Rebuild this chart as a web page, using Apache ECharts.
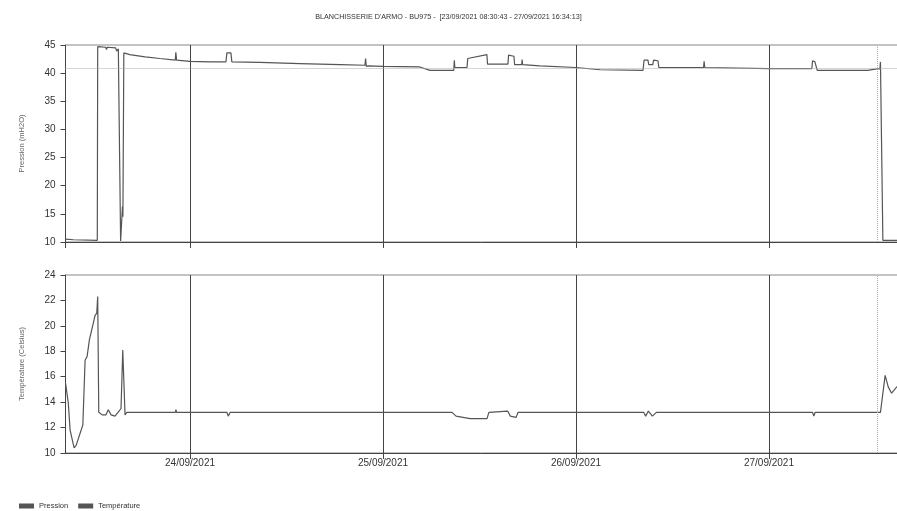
<!DOCTYPE html>
<html>
<head>
<meta charset="utf-8">
<title>BLANCHISSERIE D'ARMO - BU975</title>
<script src="https://cdn.jsdelivr.net/npm/echarts@6/dist/echarts.min.js"></script>
<style>
html, body { margin: 0; padding: 0; background: #fff; }
#chart { width: 897px; height: 511px; }
</style>
</head>
<body>
<div id="chart"></div>
<script>
// bornes de la période
var startTime = '2021-09-23 08:30:43';
var endTime = '2021-09-27 16:34:13';
var markerTime = '2021-09-27 13:31';
var seuilPression = 40.8;

// pression (mH2O)
var pressTimes = [
	'2021-09-23 08:31', '2021-09-23 09:30', '2021-09-23 12:28', '2021-09-23 12:31', '2021-09-23 13:30',
	'2021-09-23 13:37', '2021-09-23 13:42', '2021-09-23 14:45', '2021-09-23 14:52', '2021-09-23 15:05',
	'2021-09-23 15:18', '2021-09-23 15:22', '2021-09-23 15:30', '2021-09-23 15:36', '2021-09-23 15:39',
	'2021-09-23 15:46', '2021-09-23 16:30', '2021-09-23 18:25', '2021-09-23 20:15', '2021-09-23 22:10',
	'2021-09-23 22:14', '2021-09-23 22:20', '2021-09-24 00:00', '2021-09-24 02:30', '2021-09-24 04:28',
	'2021-09-24 04:35', '2021-09-24 05:05', '2021-09-24 05:12', '2021-09-24 08:40', '2021-09-24 13:40',
	'2021-09-24 18:40', '2021-09-24 21:45', '2021-09-24 21:50', '2021-09-24 21:55', '2021-09-24 22:10',
	'2021-09-25 00:00', '2021-09-25 04:35', '2021-09-25 05:50', '2021-09-25 08:48', '2021-09-25 08:52',
	'2021-09-25 08:56', '2021-09-25 10:27', '2021-09-25 10:32', '2021-09-25 12:55', '2021-09-25 13:00',
	'2021-09-25 15:32', '2021-09-25 15:37', '2021-09-25 16:17', '2021-09-25 16:22', '2021-09-25 17:15',
	'2021-09-25 17:18', '2021-09-25 17:22', '2021-09-25 19:30', '2021-09-26 00:00', '2021-09-26 03:00',
	'2021-09-26 08:20', '2021-09-26 08:28', '2021-09-26 08:57', '2021-09-26 09:03', '2021-09-26 09:33',
	'2021-09-26 09:39', '2021-09-26 10:12', '2021-09-26 10:18', '2021-09-26 15:52', '2021-09-26 15:56',
	'2021-09-26 16:01', '2021-09-27 00:00', '2021-09-27 05:20', '2021-09-27 05:25', '2021-09-27 05:43',
	'2021-09-27 06:00', '2021-09-27 12:18', '2021-09-27 13:12', '2021-09-27 13:48', '2021-09-27 13:52',
	'2021-09-27 13:58', '2021-09-27 14:10', '2021-09-27 16:34'
];
var pressVals = [
	10.5, 10.4, 10.3, 44.7, 44.6,
	44.2, 44.6, 44.5, 43.9, 44.3,
	44.2, 10.2, 10.3, 16.3, 14.5,
	43.6, 43.3, 42.9, 42.6, 42.3,
	43.7, 42.3, 42.1, 42.0, 42.0,
	43.6, 43.6, 42.0, 41.9, 41.7,
	41.5, 41.4, 42.6, 41.2, 41.3,
	41.2, 41.1, 40.5, 40.5, 42.3,
	41.0, 41.0, 42.6, 43.3, 41.6,
	41.6, 43.2, 43.0, 41.5, 41.5,
	42.4, 41.5, 41.3, 41.0, 40.6,
	40.5, 42.3, 42.3, 41.5, 41.5,
	42.3, 42.2, 41.0, 41.0, 42.1,
	41.0, 40.8, 40.8, 42.2, 42.0,
	40.5, 40.5, 40.7, 40.8, 42.0,
	42.0, 10.3, 10.3
];

// température (Celsius)
var tempTimes = [
	'2021-09-23 08:31', '2021-09-23 08:45', '2021-09-23 08:52', '2021-09-23 09:05', '2021-09-23 09:35',
	'2021-09-23 09:50', '2021-09-23 10:40', '2021-09-23 10:57', '2021-09-23 11:12', '2021-09-23 11:29',
	'2021-09-23 11:49', '2021-09-23 12:11', '2021-09-23 12:24', '2021-09-23 12:31', '2021-09-23 12:39',
	'2021-09-23 13:04', '2021-09-23 13:33', '2021-09-23 13:50', '2021-09-23 14:11', '2021-09-23 14:40',
	'2021-09-23 15:10', '2021-09-23 15:25', '2021-09-23 15:38', '2021-09-23 15:55', '2021-09-23 16:08',
	'2021-09-23 22:10', '2021-09-23 22:15', '2021-09-23 22:20', '2021-09-24 04:35', '2021-09-24 04:45',
	'2021-09-24 05:00', '2021-09-25 08:35', '2021-09-25 09:05', '2021-09-25 10:50', '2021-09-25 12:56',
	'2021-09-25 13:10', '2021-09-25 15:30', '2021-09-25 15:50', '2021-09-25 16:33', '2021-09-25 16:48',
	'2021-09-26 08:25', '2021-09-26 08:40', '2021-09-26 09:00', '2021-09-26 09:30', '2021-09-26 10:00',
	'2021-09-27 05:25', '2021-09-27 05:35', '2021-09-27 05:45', '2021-09-27 13:52', '2021-09-27 14:27',
	'2021-09-27 14:50', '2021-09-27 15:15', '2021-09-27 15:54', '2021-09-27 16:34'
];
var tempVals = [
	15.5, 15.4, 13.9, 11.8, 10.4,
	10.6, 12.2, 17.3, 17.6, 18.9,
	19.8, 20.8, 21.0, 22.3, 13.2,
	13.0, 13.0, 13.4, 13.0, 12.9,
	13.3, 13.5, 18.1, 13.0, 13.2,
	13.2, 13.4, 13.2, 13.2, 12.9,
	13.2, 13.2, 12.9, 12.7, 12.7,
	13.2, 13.3, 12.9, 12.8, 13.2,
	13.2, 12.9, 13.3, 12.9, 13.2,
	13.2, 12.9, 13.2, 13.2, 16.1,
	15.2, 14.7, 15.2, 15.5
];

var pressData = [];
for (var i = 0; i < pressTimes.length; i++) {
	pressData.push([pressTimes[i], pressVals[i]]);
}
var tempData = [];
for (var j = 0; j < tempTimes.length; j++) {
	tempData.push([tempTimes[j], tempVals[j]]);
}

var lineColor = '#555';
var axisColor = '#444';
var DAY = 24 * 3600 * 1000;

function xAxe(gridIdx, showLabel) {
	return {
		type : 'time',
		gridIndex : gridIdx,
		min : startTime,
		max : endTime,
		minInterval : DAY,
		maxInterval : DAY,
		axisLine : { show : true, lineStyle : { color : axisColor, width : 1 } },
		axisTick : { show : true, length : 6, lineStyle : { color : axisColor } },
		splitLine : { show : true, lineStyle : { color : axisColor, width : 1 } },
		axisLabel : {
			show : showLabel,
			showMinLabel : false,
			showMaxLabel : false,
			formatter : '{dd}/{MM}/{yyyy}',
			color : '#333',
			fontSize : 10,
			fontFamily : 'Liberation Sans',
			margin : 5
		}
	};
}

function yAxe(gridIdx, name, min, max, step) {
	return {
		type : 'value',
		gridIndex : gridIdx,
		name : name,
		nameLocation : 'middle',
		nameGap : 40,
		nameTextStyle : { color : '#666', fontSize : 7.5, fontFamily : 'Liberation Sans' },
		min : min,
		max : max,
		interval : step,
		axisLine : { show : true, lineStyle : { color : axisColor, width : 1 } },
		axisTick : { show : true, length : 5, lineStyle : { color : axisColor } },
		splitLine : { show : false },
		axisLabel : { color : '#333', fontSize : 10, fontFamily : 'Liberation Sans', margin : 10 }
	};
}

var chart = echarts.init(document.getElementById('chart'));
var option = {
	backgroundColor : '#fff',
	animation : false,
	title : {
		text : "BLANCHISSERIE D'ARMO - BU975 -  [23/09/2021 08:30:43 - 27/09/2021 16:34:13]",
		left : 'center',
		top : 9,
		textStyle : { fontSize : 7.2, fontWeight : 'normal', color : '#333', fontFamily : 'Liberation Sans' }
	},
	legend : {
		data : ['Pression', 'Température'],
		left : 14,
		top : 497,
		icon : 'rect',
		itemWidth : 15,
		itemHeight : 5,
		itemGap : 10,
		textStyle : { fontSize : 7.5, color : '#333', fontFamily : 'Liberation Sans' }
	},
	// la zone de tracé dépasse un peu à droite de l'image
	grid : [
		{ left : 65.5, width : 836.7, top : 45, bottom : 269, outerBoundsMode : 'none', show : true, borderColor : '#888', borderWidth : 1 },
		{ left : 65.5, width : 836.7, top : 275, bottom : 58, outerBoundsMode : 'none', show : true, borderColor : '#888', borderWidth : 1 }
	],
	xAxis : [ xAxe(0, false), xAxe(1, true) ],
	yAxis : [
		yAxe(0, 'Pression (mH2O)', 10, 45, 5),
		yAxe(1, 'Température (Celsius)', 10, 24, 2)
	],
	series : [
		{
			name : 'Pression',
			type : 'line',
			xAxisIndex : 0,
			yAxisIndex : 0,
			data : pressData,
			showSymbol : false,
			color : lineColor,
			lineStyle : { width : 1.2, color : lineColor },
			markLine : {
				silent : true,
				symbol : 'none',
				label : { show : false },
				lineStyle : { color : '#aaa', type : 'dotted', width : 1 },
				data : [ { yAxis : seuilPression }, { xAxis : markerTime } ]
			}
		},
		{
			name : 'Température',
			type : 'line',
			xAxisIndex : 1,
			yAxisIndex : 1,
			data : tempData,
			showSymbol : false,
			color : lineColor,
			lineStyle : { width : 1.2, color : lineColor },
			markLine : {
				silent : true,
				symbol : 'none',
				label : { show : false },
				lineStyle : { color : '#aaa', type : 'dotted', width : 1 },
				data : [ { xAxis : markerTime } ]
			}
		}
	]
};
chart.setOption(option);
</script>
</body>
</html>
